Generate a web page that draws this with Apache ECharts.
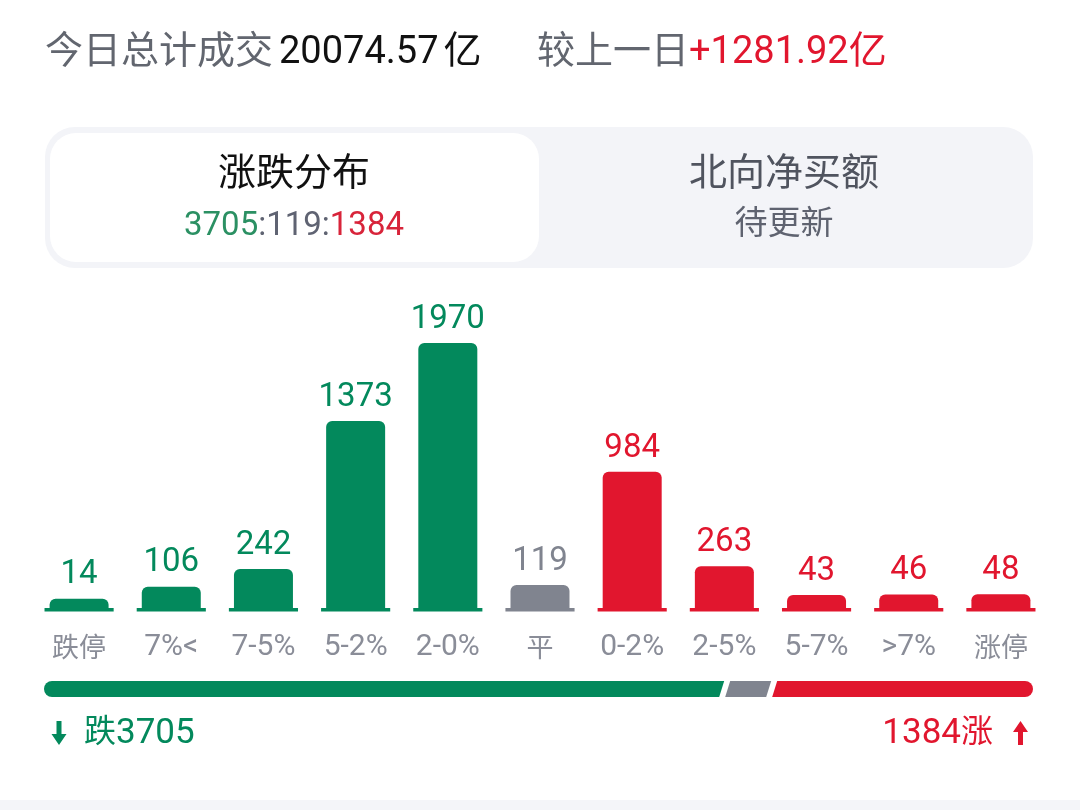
<!DOCTYPE html>
<html>
<head>
<meta charset="utf-8">
<script src="https://cdn.jsdelivr.net/npm/echarts@6/dist/echarts.min.js"></script>
<style>
html,body{margin:0;padding:0;background:#ffffff;}
#chart{width:1080px;height:810px;}
</style>
</head>
<body>
<div id="chart"></div>
<script>
// ---- data ----
const categories = ['跌停', '7%<', '7-5%', '5-2%', '2-0%', '平', '0-2%', '2-5%', '5-7%', '>7%', '涨停'];
const counts = [14, 106, 242, 1373, 1970, 119, 984, 263, 43, 46, 48];
const tones = ['down', 'down', 'down', 'down', 'down', 'flat', 'up', 'up', 'up', 'up', 'up'];
const breadth = [3705, 119, 1384];           // down : flat : up
const turnoverTotal = '20074.57';
const turnoverChange = '+1281.92';
const unit = '亿';

// ---- style ----
const COLORS = { down: '#03895c', flat: '#80848f', up: '#e1162e' };
const FONT = 'Roboto, "Noto Sans CJK SC", sans-serif';
const Y_MIN = -80, Y_MAX = 2000;

const chart = echarts.init(document.getElementById('chart'), null, { renderer: 'canvas' });

function renderBars(params, api) {
  const i = api.value(0), v = api.value(1);
  const top = api.coord([i, v]);
  const base = api.coord([i, Y_MIN]);
  const band = api.size([1, 0])[0];
  const bw = band * 0.64, fw = band * 0.75;
  const c = COLORS[tones[i]];
  return {
    type: 'group',
    children: [
      { type: 'rect', shape: { x: top[0] - bw / 2, y: top[1], width: bw, height: base[1] - top[1], r: [6, 6, 0, 0] }, style: { fill: c } },
      { type: 'rect', shape: { x: top[0] - fw / 2, y: base[1] - 3, width: fw, height: 3.5 }, style: { fill: c } },
      { type: 'text', x: top[0], y: top[1] - 7, style: { text: String(v), align: 'center', verticalAlign: 'bottom', fill: c, fontSize: 33, fontFamily: FONT } }
    ]
  };
}

function renderBreadth(params, api) {
  const d = api.value(0), f = api.value(1), u = api.value(2);
  const total = d + f + u;
  const cs = params.coordSys;
  const T = cs.y, B = cs.y + cs.height, r = cs.height / 2;
  const L = api.coord([0, 0])[0], R = api.coord([total, 0])[0];
  const gap = 6, slant = 5;
  const redBL = api.coord([d + f, 0])[0] + 2;
  const grayW = Math.max(api.coord([f, 0])[0] - L, 41);
  const grayBR = redBL - gap, grayBL = grayBR - grayW, greenBR = grayBL - gap;
  return {
    type: 'group',
    children: [
      { type: 'path', shape: { pathData: `M${L + r},${T} L${greenBR + slant},${T} L${greenBR},${B} L${L + r},${B} A${r},${r} 0 0 1 ${L + r},${T} Z` }, style: { fill: COLORS.down } },
      { type: 'polygon', shape: { points: [[grayBL + slant, T], [grayBR + slant, T], [grayBR, B], [grayBL, B]] }, style: { fill: COLORS.flat } },
      { type: 'path', shape: { pathData: `M${redBL + slant},${T} L${R - r},${T} A${r},${r} 0 0 1 ${R - r},${B} L${redBL},${B} Z` }, style: { fill: COLORS.up } }
    ]
  };
}

const CJK = /[\u4e00-\u9fff]/;

const option = {
  backgroundColor: '#ffffff',
  animation: false,
  grid: [
    { left: 33, width: 1014, top: 339, height: 272 },
    { left: 44, width: 989, top: 681, height: 16 }
  ],
  xAxis: [
    {
      type: 'category', gridIndex: 0, data: categories,
      axisLine: { show: false, onZero: false }, axisTick: { show: false },
      axisLabel: {
        margin: 18,
        formatter: (v) => (CJK.test(v) ? '{c|' + v + '}' : '{a|' + v + '}'),
        rich: {
          c: { color: '#8a8d98', fontSize: 27, fontFamily: FONT, lineHeight: 36, padding: [6, 0, 0, 0] },
          a: { color: '#8a8d98', fontSize: 30, fontFamily: FONT, lineHeight: 36 }
        }
      },
      splitLine: { show: false }
    },
    { type: 'value', gridIndex: 1, min: 0, max: breadth[0] + breadth[1] + breadth[2], show: false }
  ],
  yAxis: [
    { type: 'value', gridIndex: 0, min: Y_MIN, max: Y_MAX, show: false },
    { type: 'value', gridIndex: 1, min: 0, max: 1, show: false }
  ],
  graphic: [
    { type: 'rect', shape: { x: 0, y: 800, width: 1080, height: 10 }, style: { fill: '#f4f5f9' }, silent: true },
    // header
    { type: 'text', x: 45, y: 53, style: {
        text: '{g|今日总计成交}{k|' + turnoverTotal + '}{u|' + unit + '}', verticalAlign: 'middle',
        rich: {
          g: { fontSize: 38, fontFamily: FONT, fill: '#62666f', color: '#62666f' },
          k: { fontSize: 38, fontFamily: FONT, fill: '#111111', color: '#111111', padding: [0, 0, 0, 6] },
          u: { fontSize: 38, fontFamily: FONT, fill: '#111111', color: '#111111', padding: [0, 0, 0, 5] }
        }
      } },
    { type: 'text', x: 537, y: 53, style: {
        text: '{g|较上一日}{r|' + turnoverChange + unit + '}', verticalAlign: 'middle',
        rich: { g: { fontSize: 38, fontFamily: FONT, fill: '#62666f', color: '#62666f' }, r: { fontSize: 38, fontFamily: FONT, fill: COLORS.up, color: COLORS.up } }
      } },
    // tabs
    { type: 'rect', shape: { x: 45, y: 127, width: 988, height: 141, r: 30 }, style: { fill: '#f3f4f8' } },
    { type: 'rect', shape: { x: 50, y: 133, width: 489, height: 129, r: 26 }, style: { fill: '#ffffff' } },
    { type: 'text', x: 294, y: 175, style: { text: '涨跌分布', align: 'center', verticalAlign: 'middle', fontSize: 38, fontFamily: FONT, fill: '#111111' } },
    { type: 'text', x: 294, y: 227, style: {
        text: '{d|' + breadth[0] + '}{f|:' + breadth[1] + ':}{u|' + breadth[2] + '}', align: 'center', verticalAlign: 'middle',
        rich: { d: { fontSize: 33, fontFamily: FONT, fill: '#2b9063', color: '#2b9063' }, f: { fontSize: 33, fontFamily: FONT, fill: '#5f6372', color: '#5f6372' }, u: { fontSize: 33, fontFamily: FONT, fill: '#d8243a', color: '#d8243a' } }
      } },
    { type: 'text', x: 784, y: 175, style: { text: '北向净买额', align: 'center', verticalAlign: 'middle', fontSize: 38, fontFamily: FONT, fill: '#50545f' } },
    { type: 'text', x: 784, y: 226, style: { text: '待更新', align: 'center', verticalAlign: 'middle', fontSize: 33, fontFamily: FONT, fill: '#5f6370' } },
    // bottom legend
    { type: 'polygon', shape: { points: [[56.5, 721], [61.5, 721], [61.5, 734], [66.5, 734], [59, 745], [51.5, 734], [56.5, 734]] }, style: { fill: COLORS.down } },
    { type: 'text', x: 84, y: 734, style: {
        text: '{c|跌}{n|' + breadth[0] + '}', verticalAlign: 'middle',
        rich: { c: { fontSize: 32, fontFamily: FONT, fill: COLORS.down, color: COLORS.down }, n: { fontSize: 35, fontFamily: FONT, fill: COLORS.down, color: COLORS.down } }
      } },
    { type: 'polygon', shape: { points: [[1020.5, 721], [1028, 732], [1023, 732], [1023, 745], [1018, 745], [1018, 732], [1013, 732]] }, style: { fill: COLORS.up } },
    { type: 'text', x: 993, y: 734, style: {
        text: '{n|' + breadth[2] + '}{c|涨}', align: 'right', verticalAlign: 'middle',
        rich: { c: { fontSize: 32, fontFamily: FONT, fill: COLORS.up, color: COLORS.up }, n: { fontSize: 35, fontFamily: FONT, fill: COLORS.up, color: COLORS.up } }
      } }
  ],
  series: [
    {
      type: 'custom', xAxisIndex: 0, yAxisIndex: 0,
      data: counts.map((v, i) => [i, v]),
      encode: { x: 0, y: 1 },
      renderItem: renderBars
    },
    {
      type: 'custom', xAxisIndex: 1, yAxisIndex: 1,
      data: [[breadth[0], breadth[1], breadth[2]]],
      dimensions: ['down', 'flat', 'up'],
      encode: { x: 0 },
      renderItem: renderBreadth
    }
  ]
};

chart.setOption(option);
</script>
</body>
</html>
